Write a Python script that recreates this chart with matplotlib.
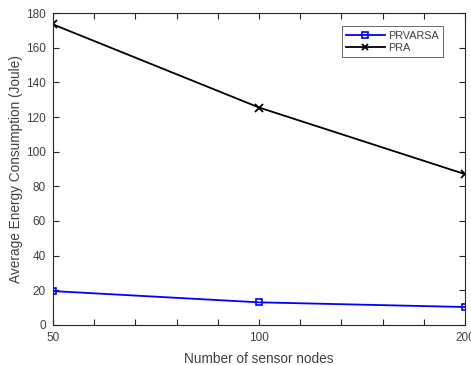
import numpy as np
import matplotlib
matplotlib.use("Agg")
import matplotlib.pyplot as plt

plt.rcParams['font.family'] = ['Liberation Sans', 'DejaVu Sans']

nodes = ['50', '100', '200']
prvarsa = [19.5, 13.0, 10.3]
pra = [173.5, 125.5, 87.0]

xpos = np.arange(len(nodes))

fig = plt.figure(figsize=(4.71, 3.65), dpi=100)
ax = fig.add_axes([0.1125, 0.11, 0.875, 0.854])

ax.plot(xpos, prvarsa, color='#0000ff', marker='s', markersize=5, markerfacecolor='none',
        markeredgewidth=1.2, linewidth=1.3, label='PRVARSA')
ax.plot(xpos, pra, color='black', marker='x', markersize=6, markeredgewidth=1.3,
        linewidth=1.3, label='PRA')

ax.set_xlim(0, 2)
ax.set_ylim(0, 180)
ax.set_xticks(xpos)
ax.set_xticklabels(nodes)
ax.set_xticks(np.arange(0, 2.01, 0.2), minor=True)
ax.set_yticks(np.arange(0, 181, 20))
ax.tick_params(which='both', direction='in', top=True, right=True, labelsize=8.5,
               labelcolor='#404040', color='#262626', length=4, width=0.8, pad=5)
ax.tick_params(axis='x', which='minor', length=4)
for s in ax.spines.values():
    s.set_color('#262626')
    s.set_linewidth(0.8)

ax.set_xlabel('Number of sensor nodes', fontsize=9.8, color='#404040', labelpad=6)
ax.set_ylabel('Average Energy Consumption (Joule)', fontsize=9.8, color='#404040', labelpad=2)

leg = ax.legend(loc='upper right', bbox_to_anchor=(0.96, 0.975), fontsize=7.8,
                frameon=True, fancybox=False, edgecolor='#262626', handlelength=3.6,
                borderpad=0.4, labelspacing=0.2, handletextpad=0.3, markerscale=0.8)
leg.get_frame().set_linewidth(0.6)
for t in leg.get_texts():
    t.set_color('#404040')

fig.savefig('out.png', dpi=100)
